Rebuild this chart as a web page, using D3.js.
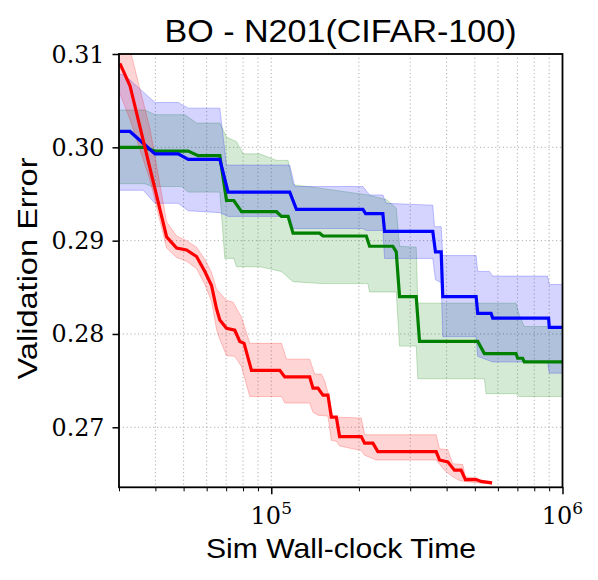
<!DOCTYPE html>
<html>
<head>
<meta charset="utf-8">
<script src="https://cdn.jsdelivr.net/npm/d3@7"></script>
<style>
  html, body { margin: 0; padding: 0; background: #fff; }
  svg { display: block; }
</style>
</head>
<body>
<svg id="chart" width="598" height="580"></svg>
<script>
// ---------- data (x = simulated wall-clock time, y = validation error) ----------
const titleText = "BO - N201(CIFAR-100)";
const xLabelText = "Sim Wall-clock Time";
const yLabelText = "Validation Error";
const yTickValues = [0.27, 0.28, 0.29, 0.30, 0.31];
const yTickLabels = ["0.27", "0.28", "0.29", "0.30", "0.31"];
const xMajorTicks = [1e5, 1e6];
const xMajorExponents = ["5", "6"];
const xMinorTicks = [3e4, 4e4, 5e4, 6e4, 7e4, 8e4, 9e4, 2e5, 3e5, 4e5, 5e5, 6e5, 7e5, 8e5, 9e5];

const redMean = [[30200,0.3090],[32720,0.3066],[43710,0.2904],[47310,0.2892],[51200,0.2890],[55390,0.2883],[59140,0.2867],[62350,0.2852],[64860,0.2827],[66580,0.2815],[70190,0.2806],[74950,0.2804],[77960,0.2792],[80660,0.2790],[85510,0.2761],[106950,0.2761],[111260,0.2754],[135470,0.2754],[139040,0.2742],[144640,0.2742],[150460,0.27345],[156520,0.27345],[160770,0.2711],[167240,0.2711],[171660,0.2690],[203770,0.2690],[209150,0.2683],[223310,0.2683],[232300,0.2674],[368310,0.2674],[378060,0.2665],[403650,0.2663],[425580,0.2654],[448710,0.2654],[464190,0.2644],[505140,0.2644],[525450,0.2642],[573120,0.26405]];
const redUpper = [[30000,0.3125],[32720,0.3105],[38330,0.3020],[43710,0.2920],[47310,0.2905],[51200,0.2900],[55390,0.2893],[59140,0.2880],[62350,0.2866],[64860,0.2848],[70190,0.2836],[73950,0.2834],[79020,0.2818],[84370,0.2790],[108390,0.2790],[112760,0.2773],[135470,0.2773],[140920,0.2757],[148570,0.2757],[152490,0.2750],[156520,0.2737],[162820,0.2711],[203770,0.2710],[209150,0.2692],[368310,0.2692],[378060,0.2677],[403650,0.2676],[419910,0.2661],[454410,0.2660],[464190,0.2647],[505140,0.2646],[532110,0.2642],[573120,0.2641]];
const redLower = [[30000,0.3060],[32720,0.3030],[38330,0.2965],[43710,0.2892],[47310,0.2882],[51200,0.2878],[55390,0.2870],[59140,0.2853],[62350,0.2835],[64860,0.2805],[66580,0.2794],[70190,0.2777],[74950,0.2776],[79020,0.2765],[84370,0.2733],[108390,0.2733],[111260,0.2726],[135470,0.2726],[139040,0.2716],[144640,0.2713],[156520,0.2712],[160770,0.2686],[167240,0.2685],[171660,0.2680],[203770,0.2675],[209150,0.2670],[229390,0.2665],[368310,0.2665],[393270,0.2654],[419910,0.2647],[442710,0.2643],[460530,0.2642],[573120,0.2639]];

const blueMean = [[30200,0.3017],[32720,0.3017],[39870,0.2993],[47910,0.2993],[51850,0.2987],[66580,0.2987],[71080,0.2952],[115730,0.2952],[122020,0.29335],[206360,0.29335],[210800,0.2929],[241650,0.2929],[244910,0.2910],[358560,0.2910],[366270,0.2888],[383160,0.2888],[388050,0.2840],[505140,0.2840],[511560,0.2822],[568620,0.2822],[575850,0.2817],[895860,0.2817],[900810,0.2807],[1000000,0.2807]];
const blueUpper = [[30000,0.3079],[31450,0.3077],[39870,0.3048],[47910,0.3048],[51850,0.3042],[66580,0.3042],[70190,0.2981],[115730,0.2981],[120390,0.2958],[206360,0.2958],[217560,0.2949],[241650,0.2949],[248220,0.2940],[358560,0.2938],[363390,0.2915],[383160,0.2915],[388050,0.2884],[505140,0.2884],[511560,0.2867],[561030,0.2867],[575850,0.2862],[888810,0.2862],[900810,0.2853],[1000000,0.2853]];
const blueLower = [[30000,0.2954],[36340,0.2954],[39870,0.2940],[47910,0.2940],[51850,0.2932],[66580,0.2930],[71080,0.2926],[115730,0.2926],[118790,0.2913],[206360,0.2913],[211970,0.2911],[241650,0.2911],[244910,0.2881],[358560,0.2881],[366270,0.2858],[383160,0.2855],[388050,0.2797],[505140,0.2797],[511560,0.2776],[575850,0.2770],[888810,0.2770],[900810,0.2758],[1000000,0.2758]];

const greenMean = [[30200,0.3000],[36340,0.3000],[39870,0.2996],[51850,0.2996],[56090,0.2991],[66580,0.2991],[70190,0.2943],[74360,0.2943],[79020,0.2931],[104200,0.2931],[108390,0.2926],[114190,0.2926],[118790,0.2908],[146590,0.2908],[150460,0.2905],[211970,0.2905],[217560,0.2894],[261490,0.2894],[268610,0.2888],[275710,0.2840],[314550,0.2840],[322860,0.2792],[511560,0.2792],[539310,0.2779],[692610,0.2779],[701400,0.2774],[729630,0.2774],[739470,0.2770],[1000000,0.2770]];
const greenUpper = [[30000,0.3040],[36830,0.3040],[39870,0.3035],[50520,0.3035],[55390,0.3026],[66580,0.3026],[70190,0.3011],[75960,0.3006],[80030,0.2993],[91310,0.2993],[104200,0.2986],[114190,0.2986],[118790,0.2960],[148570,0.2956],[214660,0.2949],[248220,0.2944],[268610,0.2935],[275710,0.2894],[314550,0.2893],[318540,0.2833],[692610,0.2833],[710880,0.2820],[739470,0.2808],[1000000,0.2808]];
const greenLower = [[30000,0.2961],[36830,0.2961],[38840,0.2958],[49220,0.2958],[51850,0.2952],[66580,0.2952],[69250,0.2881],[74360,0.2881],[75960,0.2872],[91310,0.2872],[108390,0.2867],[118790,0.2856],[148570,0.2854],[214660,0.2854],[217560,0.2845],[268610,0.2845],[275710,0.2787],[314550,0.2787],[318540,0.2752],[539310,0.2752],[546600,0.2736],[692610,0.2736],[710880,0.2733],[1000000,0.2733]];

const seriesList = [
  { name: "green", color: "#008000", mean: greenMean, upper: greenUpper, lower: greenLower },
  { name: "blue",  color: "#0000ff", mean: blueMean,  upper: blueUpper,  lower: blueLower },
  { name: "red",   color: "#ff0000", mean: redMean,   upper: redUpper,   lower: redLower }
];

const SERIF = "'DejaVu Serif', 'Liberation Serif', serif";
const SANS = "'Liberation Sans', Arial, sans-serif";

// ---------- layout ----------
const svg = d3.select("#chart");
const plot = { left: 119, right: 562.5, top: 54, bottom: 487.3 };

const x = d3.scaleLog().domain([3e4, 1e6]).range([plot.left, plot.right]);
const y = d3.scaleLinear().domain([0.26357, 0.31]).range([plot.bottom, plot.top]);

svg.append("defs").append("clipPath").attr("id", "clip")
  .append("rect").attr("x", plot.left).attr("y", plot.top)
  .attr("width", plot.right - plot.left).attr("height", plot.bottom - plot.top);

// grid
const grid = svg.append("g").attr("stroke", "#b0b0b0").attr("stroke-width", 1)
  .attr("stroke-dasharray", "1.2,2.6").attr("fill", "none");
xMinorTicks.concat(xMajorTicks).forEach(v => {
  grid.append("line").attr("x1", x(v)).attr("x2", x(v)).attr("y1", plot.top).attr("y2", plot.bottom);
});
yTickValues.forEach(v => {
  grid.append("line").attr("x1", plot.left).attr("x2", plot.right).attr("y1", y(v)).attr("y2", y(v));
});

// series
const line = d3.line().x(d => x(d[0])).y(d => y(d[1]));
const data = svg.append("g").attr("clip-path", "url(#clip)");

seriesList.forEach(s => {
  const poly = s.upper.concat(s.lower.slice().reverse());
  data.append("path").attr("d", line(poly) + "Z")
    .attr("fill", s.color).attr("fill-opacity", 0.17).attr("stroke", "none");
  [s.upper, s.lower].forEach(b => {
    data.append("path").attr("d", line(b)).attr("fill", "none")
      .attr("stroke", s.color).attr("stroke-opacity", 0.22).attr("stroke-width", 1);
  });
});
seriesList.forEach(s => {
  data.append("path").attr("d", line(s.mean)).attr("fill", "none")
    .attr("stroke", s.color).attr("stroke-width", 3.2).attr("stroke-linejoin", "miter");
});

// axes
const yAxis = d3.axisLeft(y).tickValues(yTickValues).tickFormat((d, i) => yTickLabels[i]).tickSize(6.5).tickPadding(8);
const yg = svg.append("g").attr("transform", `translate(${plot.left},0)`).call(yAxis);
yg.attr("font-family", SERIF).attr("font-size", 25);
yg.select(".domain").remove();
yg.selectAll(".tick line").attr("stroke", "#000").attr("stroke-width", 1.5);
yg.selectAll(".tick text").attr("fill", "#000")
  .attr("textLength", 53).attr("lengthAdjust", "spacingAndGlyphs");

const xAxisMajor = d3.axisBottom(x).tickValues(xMajorTicks).tickFormat(() => "").tickSize(7);
const xg = svg.append("g").attr("transform", `translate(0,${plot.bottom})`).call(xAxisMajor);
xg.select(".domain").remove();
xg.selectAll(".tick line").attr("stroke", "#000").attr("stroke-width", 1.5);
const xAxisMinor = d3.axisBottom(x).tickValues(xMinorTicks).tickFormat(() => "").tickSize(4);
const xgm = svg.append("g").attr("transform", `translate(0,${plot.bottom})`).call(xAxisMinor);
xgm.select(".domain").remove();
xgm.selectAll(".tick line").attr("stroke", "#000").attr("stroke-width", 1);

xMajorTicks.forEach((v, i) => {
  const t = svg.append("text").attr("x", x(v)).attr("y", 524)
    .attr("text-anchor", "middle").attr("font-family", SERIF).attr("font-size", 24).attr("fill", "#000");
  t.append("tspan").text("10");
  t.append("tspan").attr("dy", -10).attr("font-size", 17).text(xMajorExponents[i]);
});

// frame
svg.append("rect").attr("x", plot.left).attr("y", plot.top)
  .attr("width", plot.right - plot.left).attr("height", plot.bottom - plot.top)
  .attr("fill", "none").attr("stroke", "#000").attr("stroke-width", 1.8);

// labels
svg.append("text").attr("x", 340.5).attr("y", 42.3).attr("text-anchor", "middle")
  .attr("font-family", SANS).attr("font-size", 32).attr("fill", "#000")
  .attr("textLength", 352).attr("lengthAdjust", "spacingAndGlyphs").text(titleText);
svg.append("text").attr("x", 341).attr("y", 558).attr("text-anchor", "middle")
  .attr("font-family", SANS).attr("font-size", 28).attr("fill", "#000")
  .attr("textLength", 270).attr("lengthAdjust", "spacingAndGlyphs").text(xLabelText);
svg.append("text").attr("transform", "translate(37,268.5) rotate(-90)").attr("text-anchor", "middle")
  .attr("font-family", SANS).attr("font-size", 28).attr("fill", "#000")
  .attr("textLength", 222).attr("lengthAdjust", "spacingAndGlyphs").text(yLabelText);
</script>
</body>
</html>
